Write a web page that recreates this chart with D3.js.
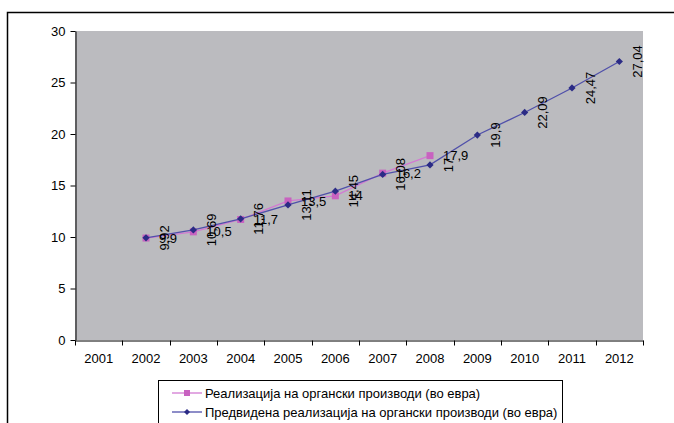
<html>
<head>
    <meta charset="UTF-8">
    <title>Реализација на органски производи</title>
    <style>
        body {
            margin: 0;
            background: #fff;
        }

        text {
            font-family: "Liberation Sans", Arial, sans-serif;
            fill: #000;
        }

        .axis path, .axis line {
            stroke: #000;
            stroke-width: 1px;
        }
    </style>
</head>
<body>
<div id="chart"></div>
<script src="https://cdnjs.cloudflare.com/ajax/libs/d3/7.8.5/d3.min.js"></script>
<script>

    // categories and values
    var years = ["2001", "2002", "2003", "2004", "2005", "2006", "2007", "2008", "2009", "2010", "2011", "2012"];
    var realized = [null, 9.9, 10.5, 11.7, 13.5, 14, 16.2, 17.9, null, null, null, null];
    var projected = [null, 9.92, 10.69, 11.76, 13.11, 14.45, 16.08, 17, 19.9, 22.09, 24.47, 27.04];
    var yTicks = [0, 5, 10, 15, 20, 25, 30];
    var seriesNames = [
        "Реализација на органски производи (во евра)",
        "Предвидена реализација на органски производи (во евра)"
    ];

    var width = 674,
        height = 423;

    var plot = {left: 75, top: 31, right: 643, bottom: 340};

    var svg = d3.select("#chart").append("svg")
        .attr("width", width)
        .attr("height", height);

    // outer chart border, runs past the window on the right and bottom
    svg.append("rect")
        .attr("x", 7.5)
        .attr("y", 12.5)
        .attr("width", 800)
        .attr("height", 600)
        .attr("fill", "none")
        .attr("stroke", "#000")
        .attr("stroke-width", 1.5);

    var x = d3.scaleBand()
        .domain(years)
        .range([plot.left, plot.right]);

    var y = d3.scaleLinear()
        .domain([0, 30])
        .range([plot.bottom, plot.top]);

    svg.append("rect")
        .attr("x", plot.left)
        .attr("y", plot.top)
        .attr("width", plot.right - plot.left)
        .attr("height", plot.bottom - plot.top)
        .attr("fill", "#bbbbbf");

    // y axis
    var yAxis = svg.append("g")
        .attr("class", "axis")
        .attr("transform", "translate(" + (plot.left + 0.5) + ",0)")
        .call(d3.axisLeft(y).tickValues(yTicks).tickSize(5).tickPadding(5).tickSizeOuter(0));
    yAxis.selectAll("text").style("font-size", "13px");

    // x axis, ticks sit on the category borders
    var xAxis = svg.append("g")
        .attr("class", "axis")
        .attr("transform", "translate(0," + (plot.bottom + 0.5) + ")")
        .call(d3.axisBottom(x).tickSize(0).tickPadding(13));
    xAxis.selectAll("text").style("font-size", "13px");

    var borders = years.map(function (d) {
        return x(d);
    });
    borders.push(plot.right);
    xAxis.selectAll(".border-tick")
        .data(borders).enter()
        .append("line")
        .attr("class", "border-tick")
        .attr("x1", function (d) {
            return Math.round(d) + 0.5;
        })
        .attr("x2", function (d) {
            return Math.round(d) + 0.5;
        })
        .attr("y1", 0)
        .attr("y2", 5);

    function cx(i) {
        return x(years[i]) + x.bandwidth() / 2;
    }

    function toPoints(values) {
        var pts = [];
        values.forEach(function (v, i) {
            if (v !== null) pts.push({i: i, v: v});
        });
        return pts;
    }

    function fmt(v) {
        return String(v).replace(".", ",");
    }

    // equal width/height diamond like the Excel marker
    function diamondPath(r) {
        return "M0," + (-r) + "L" + r + ",0L0," + r + "L" + (-r) + ",0Z";
    }

    var line = d3.line()
        .x(function (d) {
            return cx(d.i);
        })
        .y(function (d) {
            return y(d.v);
        });

    var realPts = toPoints(realized);
    var projPts = toPoints(projected);

    // pink series
    svg.append("path")
        .datum(realPts)
        .attr("d", line)
        .attr("fill", "none")
        .attr("stroke", "#d27ad2")
        .attr("stroke-width", 1.3);

    svg.selectAll(".sq")
        .data(realPts).enter()
        .append("rect")
        .attr("class", "sq")
        .attr("x", function (d) {
            return cx(d.i) - 3.5;
        })
        .attr("y", function (d) {
            return y(d.v) - 3.5;
        })
        .attr("width", 7)
        .attr("height", 7)
        .attr("fill", "#c862c0");

    // blue series
    svg.append("path")
        .datum(projPts)
        .attr("d", line)
        .attr("fill", "none")
        .attr("stroke", "#5050aa")
        .attr("stroke-width", 1.3);

    svg.selectAll(".dm")
        .data(projPts).enter()
        .append("path")
        .attr("class", "dm")
        .attr("d", diamondPath(3.6))
        .attr("transform", function (d) {
            return "translate(" + cx(d.i) + "," + y(d.v) + ")";
        })
        .attr("fill", "#2b2b85");

    // labels: pink horizontal, blue rotated
    svg.selectAll(".lab-real")
        .data(realPts).enter()
        .append("text")
        .attr("class", "lab-real")
        .attr("x", function (d) {
            return cx(d.i) + 13;
        })
        .attr("y", function (d) {
            return y(d.v);
        })
        .attr("dy", "0.35em")
        .style("font-size", "13px")
        .text(function (d) {
            return fmt(d.v);
        });

    svg.selectAll(".lab-proj")
        .data(projPts).enter()
        .append("text")
        .attr("class", "lab-proj")
        .attr("transform", function (d) {
            return "translate(" + (cx(d.i) + 18) + "," + y(d.v) + ") rotate(-90)";
        })
        .attr("text-anchor", "middle")
        .attr("dy", "0.35em")
        .style("font-size", "13px")
        .text(function (d) {
            return fmt(d.v);
        });

    // legend
    var legend = svg.append("g");
    legend.append("rect")
        .attr("x", 158.5)
        .attr("y", 380.5)
        .attr("width", 404)
        .attr("height", 80)
        .attr("fill", "#fff")
        .attr("stroke", "#000")
        .attr("stroke-width", 1);

    var rows = [
        {name: seriesNames[0], color: "#d27ad2", mark: "#c862c0", sq: true, y: 393},
        {name: seriesNames[1], color: "#5050aa", mark: "#2b2b85", sq: false, y: 412}
    ];

    rows.forEach(function (r) {
        legend.append("line")
            .attr("x1", 172).attr("x2", 202)
            .attr("y1", r.y).attr("y2", r.y)
            .attr("stroke", r.color)
            .attr("stroke-width", 1.3);
        if (r.sq) {
            legend.append("rect")
                .attr("x", 184).attr("y", r.y - 3)
                .attr("width", 6).attr("height", 6)
                .attr("fill", r.mark);
        } else {
            legend.append("path")
                .attr("d", diamondPath(3))
                .attr("transform", "translate(187," + r.y + ")")
                .attr("fill", r.mark);
        }
        legend.append("text")
            .attr("x", 205)
            .attr("y", r.y)
            .attr("dy", "0.35em")
            .style("font-size", "13px")
            .text(r.name);
    });

</script>
</body>
</html>
